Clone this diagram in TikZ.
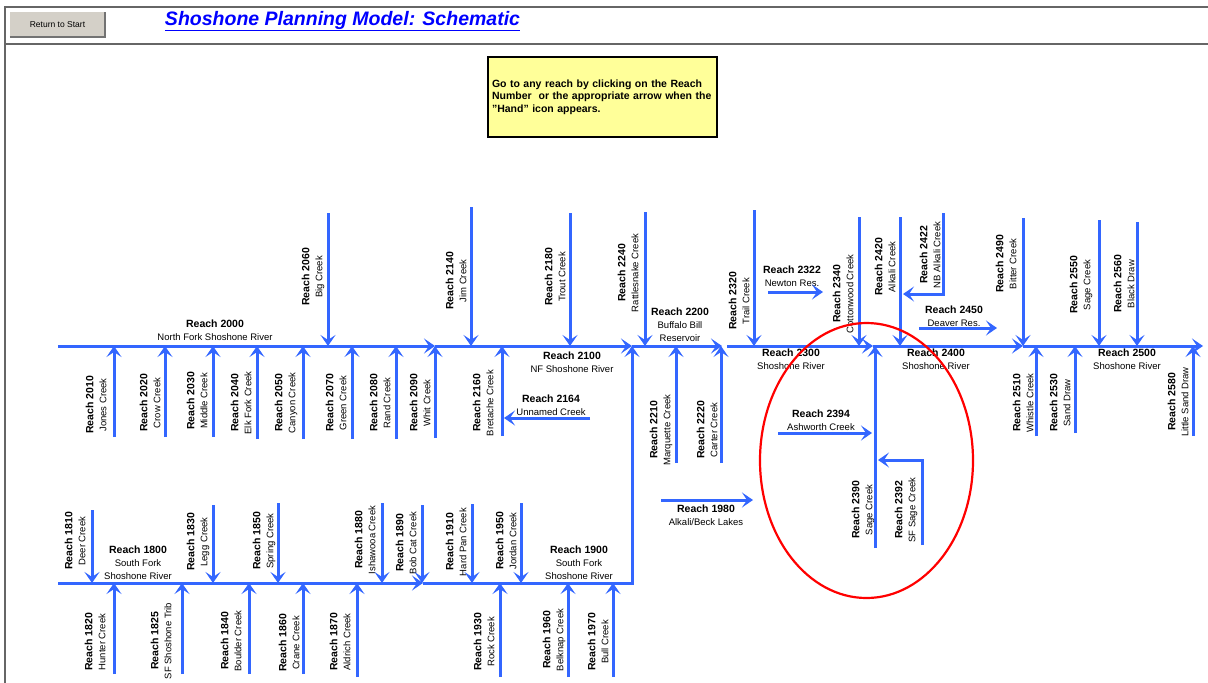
\documentclass[tikz,border=0pt]{standalone}
\usepackage{fontspec}
\setmainfont{Liberation Sans}
\usetikzlibrary{arrows.meta, positioning}
\definecolor{riverblue}{HTML}{3366FF}
\definecolor{titleblue}{HTML}{0000FF}
\definecolor{notefill}{HTML}{FFFF99}
\definecolor{btnfill}{HTML}{D4D0C8}
\newcommand*{\reach}[2]{{\fontsize{10.5}{13}\selectfont\bfseries Reach #1}\\#2}
\tikzset{
    point/.style  = {coordinate},
    river/.style  = {draw=riverblue, line width=3pt},
    flow/.style   = {river, -{Stealth[length=11pt, width=15pt, inset=5pt]}},
    tribv/.style  = {rotate=90, align=center, inner sep=0pt},
    tribh/.style  = {align=center, inner sep=0pt},
    frame/.style  = {draw=black!60, line width=1.5pt},
    button/.style = {fill=btnfill, minimum width=95pt, minimum height=25pt, inner sep=0pt, font=\fontsize{8.5}{10}\selectfont},
    note/.style   = {draw, line width=1.3pt, fill=notefill, minimum width=229pt, minimum height=80pt, text width=221pt, align=left, font=\fontsize{10.5}{12.5}\selectfont\bfseries},
    ring/.style   = {draw=red, line width=2.2pt}
}

\begin{document}
\begin{tikzpicture}[x=1pt, y=-1pt, every node/.style={font=\fontsize{9.5}{13}\selectfont}]
	\useasboundingbox (0,0) rectangle (1208,683);
	\draw [frame] (5,683) -- (5,7) -- (1208,7);
	\draw [frame] (5,44) -- (1208,44);

	\node (back) [button] at (57.5,24.5) {Return to Start};
	\draw [white, line width=1pt] (back.south west) -- (back.north west) -- (back.north east);
	\draw [black!55, line width=1.5pt] (back.south west) -- (back.south east) -- (back.north east);
	\node (title) [anchor=base, text=titleblue, font=\fontsize{19.5}{22}\selectfont\bfseries\itshape] at (342.5,25) {\underline{Shoshone Planning Model: Schematic}};
	\node (hint) [note] at (602.5,97) {Go to any reach by clicking on the Reach\\Number\ \ or the appropriate arrow when the\\{\char"0022}Hand{\char"0022} icon appears.};

	\coordinate (u0) at (58,346);
	\coordinate (u1) at (435,346);
	\coordinate (u2) at (632,346);
	\coordinate (u3) at (722,346);
	\coordinate (u4) at (727,346);
	\coordinate (u5) at (873,346);
	\coordinate (u6) at (1023,346);
	\coordinate (u7) at (1203,346);
	\coordinate (l0) at (58,583);
	\coordinate (l1) at (423,583);
	\coordinate (l2) at (632,583);

	\node (r2000) [tribh] at (215,330.5) {\reach{2000}{North Fork Shoshone River}};
	\node (r2100) [tribh] at (572,362) {\reach{2100}{NF Shoshone River}};
	\node (r2200) [tribh] at (680,325) {\reach{2200}{Buffalo Bill\\Reservoir}};
	\node (r2300) [tribh] at (791,359) {\reach{2300}{Shoshone River}};
	\node (r2400) [tribh] at (936,359) {\reach{2400}{Shoshone River}};
	\node (r2500) [tribh] at (1127,359) {\reach{2500}{Shoshone River}};
	\node (r1800) [tribh] at (138,563) {\reach{1800}{South Fork\\Shoshone River}};
	\node (r1900) [tribh] at (579,563) {\reach{1900}{South Fork\\Shoshone River}};

	\node (r2060) [tribv] at (313,277) {\reach{2060}{Big Creek}};
	\node (r2140) [tribv] at (456,281) {\reach{2140}{Jim Creek}};
	\node (r2180) [tribv] at (555,277) {\reach{2180}{Trout Creek}};
	\node (r2240) [tribv] at (628,273) {\reach{2240}{Rattlesnake Creek}};
	\node (r2320) [tribv] at (739,301) {\reach{2320}{Trail Creek}};
	\node (r2340) [tribv] at (843,294) {\reach{2340}{Cottonwood Creek}};
	\node (r2420) [tribv] at (885,267) {\reach{2420}{Alkali Creek}};
	\node (r2422) [tribv] at (930,255) {\reach{2422}{NB Alkali Creek}};
	\node (r2490) [tribv] at (1006,264) {\reach{2490}{Bitter Creek}};
	\node (r2550) [tribv] at (1081,285) {\reach{2550}{Sage Creek}};
	\node (r2560) [tribv] at (1124,284) {\reach{2560}{Black Draw}};

	\node (r2010) [tribv] at (96,405) {\reach{2010}{Jones Creek}};
	\node (r2020) [tribv] at (150,403) {\reach{2020}{Crow Creek}};
	\node (r2030) [tribv] at (197,401) {\reach{2030}{Middle Creek}};
	\node (r2040) [tribv] at (241,403) {\reach{2040}{Elk Fork Creek}};
	\node (r2050) [tribv] at (286,403) {\reach{2050}{Canyon Creek}};
	\node (r2070) [tribv] at (336,403) {\reach{2070}{Green Creek}};
	\node (r2080) [tribv] at (380,403) {\reach{2080}{Rand Creek}};
	\node (r2090) [tribv] at (420,403) {\reach{2090}{Whit Creek}};
	\node (r2160) [tribv] at (483,403) {\reach{2160}{Bretache Creek}};
	\node (r2210) [tribv] at (661,430) {\reach{2210}{Marquette Creek}};
	\node (r2220) [tribv] at (707,430) {\reach{2220}{Carter Creek}};
	\node (r2390) [tribv] at (863,510) {\reach{2390}{Sage Creek}};
	\node (r2392) [tribv] at (906,510) {\reach{2392}{SF Sage Creek}};
	\node (r2510) [tribv] at (1023,403) {\reach{2510}{Whistle Creek}};
	\node (r2530) [tribv] at (1060,403) {\reach{2530}{Sand Draw}};
	\node (r2580) [tribv] at (1178,402) {\reach{2580}{Little Sand Draw}};

	\node (r1810) [tribv] at (75,541) {\reach{1810}{Deer Creek}};
	\node (r1830) [tribv] at (198,542) {\reach{1830}{Legg Creek}};
	\node (r1850) [tribv] at (264,541) {\reach{1850}{Spring Creek}};
	\node (r1880) [tribv] at (365,540) {\reach{1880}{Ishawooa Creek}};
	\node (r1890) [tribv] at (406,543) {\reach{1890}{Bob Cat Creek}};
	\node (r1910) [tribv] at (456,542) {\reach{1910}{Hard Pan Creek}};
	\node (r1950) [tribv] at (506,541) {\reach{1950}{Jordan Creek}};
	\node (r1820) [tribv] at (95,642) {\reach{1820}{Hunter Creek}};
	\node (r1825) [tribv] at (161,641) {\reach{1825}{SF Shoshone Trib}};
	\node (r1840) [tribv] at (231,641) {\reach{1840}{Boulder Creek}};
	\node (r1860) [tribv] at (289,643) {\reach{1860}{Crane Creek}};
	\node (r1870) [tribv] at (340,642) {\reach{1870}{Aldrich Creek}};
	\node (r1930) [tribv] at (484,642) {\reach{1930}{Rock Creek}};
	\node (r1960) [tribv] at (554,640) {\reach{1960}{Belknap Creek}};
	\node (r1970) [tribv] at (598,642) {\reach{1970}{Bull Creek}};

	\node (r2164) [tribh] at (551,405) {\reach{2164}{Unnamed Creek}};
	\node (r2322) [tribh] at (792,276.5) {\reach{2322}{Newton Res.}};
	\node (r2450) [tribh] at (954,316) {\reach{2450}{Deaver Res.}};
	\node (r2394) [tribh] at (821,420) {\reach{2394}{Ashworth Creek}};
	\node (r1980) [tribh] at (706,515) {\reach{1980}{Alkali/Beck Lakes}};

	\coordinate (s2060) at (328,213);  \coordinate (j2060) at (s2060 |- u0);
	\coordinate (s2140) at (471,207);  \coordinate (j2140) at (s2140 |- u0);
	\coordinate (s2180) at (570,213);  \coordinate (j2180) at (s2180 |- u0);
	\coordinate (s2240) at (645,212);  \coordinate (j2240) at (s2240 |- u0);
	\coordinate (s2320) at (754,210);  \coordinate (j2320) at (s2320 |- u0);
	\coordinate (s2340) at (859,217);  \coordinate (j2340) at (s2340 |- u0);
	\coordinate (s2420) at (900,217);  \coordinate (j2420) at (s2420 |- u0);
	\coordinate (s2422) at (943,213);  \coordinate (j2422) at (903,294);
	\coordinate (s2490) at (1023,218); \coordinate (j2490) at (s2490 |- u0);
	\coordinate (s2550) at (1099,220); \coordinate (j2550) at (s2550 |- u0);
	\coordinate (s2560) at (1137,222); \coordinate (j2560) at (s2560 |- u0);
	\coordinate (s2010) at (114,437);  \coordinate (j2010) at (s2010 |- u0);
	\coordinate (s2020) at (165,437);  \coordinate (j2020) at (s2020 |- u0);
	\coordinate (s2030) at (213,437);  \coordinate (j2030) at (s2030 |- u0);
	\coordinate (s2040) at (257,439);  \coordinate (j2040) at (s2040 |- u0);
	\coordinate (s2050) at (303,439);  \coordinate (j2050) at (s2050 |- u0);
	\coordinate (s2070) at (352,439);  \coordinate (j2070) at (s2070 |- u0);
	\coordinate (s2080) at (396,439);  \coordinate (j2080) at (s2080 |- u0);
	\coordinate (s2090) at (435,438);  \coordinate (j2090) at (s2090 |- u0);
	\coordinate (s2160) at (502,436);  \coordinate (j2160) at (s2160 |- u0);
	\coordinate (s2210) at (676,463);  \coordinate (j2210) at (s2210 |- u0);
	\coordinate (s2220) at (721,463);  \coordinate (j2220) at (s2220 |- u0);
	\coordinate (s2390) at (875,548);  \coordinate (j2390) at (s2390 |- u0);
	\coordinate (s2392) at (922,545);  \coordinate (j2392) at (878,460);
	\coordinate (s2510) at (1036,436); \coordinate (j2510) at (s2510 |- u0);
	\coordinate (s2530) at (1075,433); \coordinate (j2530) at (s2530 |- u0);
	\coordinate (s2580) at (1193,436); \coordinate (j2580) at (s2580 |- u0);
	\coordinate (s1810) at (92,510);   \coordinate (j1810) at (s1810 |- l0);
	\coordinate (s1830) at (213,505);  \coordinate (j1830) at (s1830 |- l0);
	\coordinate (s1850) at (278,503);  \coordinate (j1850) at (s1850 |- l0);
	\coordinate (s1880) at (382,503);  \coordinate (j1880) at (s1880 |- l0);
	\coordinate (s1890) at (422,505);  \coordinate (j1890) at (s1890 |- l0);
	\coordinate (s1910) at (472,504);  \coordinate (j1910) at (s1910 |- l0);
	\coordinate (s1950) at (521,503);  \coordinate (j1950) at (s1950 |- l0);
	\coordinate (s1820) at (114,674);  \coordinate (j1820) at (s1820 |- l0);
	\coordinate (s1825) at (182,674);  \coordinate (j1825) at (s1825 |- l0);
	\coordinate (s1840) at (249,674);  \coordinate (j1840) at (s1840 |- l0);
	\coordinate (s1860) at (303,674);  \coordinate (j1860) at (s1860 |- l0);
	\coordinate (s1870) at (357,677);  \coordinate (j1870) at (s1870 |- l0);
	\coordinate (s1930) at (500,677);  \coordinate (j1930) at (s1930 |- l0);
	\coordinate (s1960) at (568,677);  \coordinate (j1960) at (s1960 |- l0);
	\coordinate (s1970) at (613,677);  \coordinate (j1970) at (s1970 |- l0);
	\coordinate (s2164) at (590,418);  \coordinate (j2164) at (504,418);
	\coordinate (s2322) at (768,292);  \coordinate (j2322) at (823,292);
	\coordinate (s2450) at (919,328);  \coordinate (j2450) at (997,328);
	\coordinate (s2394) at (778,433);  \coordinate (j2394) at (872,433);
	\coordinate (s1980) at (661,500);  \coordinate (j1980) at (753,500);

	\draw [flow] (u0) -- (u1);
	\draw [flow] (u1) -- (u2);
	\draw [flow] (u2) -- (u3);
	\draw [flow] (u4) -- (u5);
	\draw [flow] (u5) -- (u6);
	\draw [flow] (u6) -- (u7);
	\draw [flow] (l0) -- (l1);
	\draw [flow] (l1) -- (l2) -- (u2);
	\draw [flow] (s2060) -- (j2060);
	\draw [flow] (s2140) -- (j2140);
	\draw [flow] (s2180) -- (j2180);
	\draw [flow] (s2240) -- (j2240);
	\draw [flow] (s2320) -- (j2320);
	\draw [flow] (s2340) -- (j2340);
	\draw [flow] (s2420) -- (j2420);
	\draw [flow] (s2422) |- (j2422);
	\draw [flow] (s2490) -- (j2490);
	\draw [flow] (s2550) -- (j2550);
	\draw [flow] (s2560) -- (j2560);
	\draw [flow] (s2010) -- (j2010);
	\draw [flow] (s2020) -- (j2020);
	\draw [flow] (s2030) -- (j2030);
	\draw [flow] (s2040) -- (j2040);
	\draw [flow] (s2050) -- (j2050);
	\draw [flow] (s2070) -- (j2070);
	\draw [flow] (s2080) -- (j2080);
	\draw [flow] (s2090) -- (j2090);
	\draw [flow] (s2160) -- (j2160);
	\draw [flow] (s2210) -- (j2210);
	\draw [flow] (s2220) -- (j2220);
	\draw [flow] (s2390) -- (j2390);
	\draw [flow] (s2392) |- (j2392);
	\draw [flow] (s2510) -- (j2510);
	\draw [flow] (s2530) -- (j2530);
	\draw [flow] (s2580) -- (j2580);
	\draw [flow] (s1810) -- (j1810);
	\draw [flow] (s1830) -- (j1830);
	\draw [flow] (s1850) -- (j1850);
	\draw [flow] (s1880) -- (j1880);
	\draw [flow] (s1890) -- (j1890);
	\draw [flow] (s1910) -- (j1910);
	\draw [flow] (s1950) -- (j1950);
	\draw [flow] (s1820) -- (j1820);
	\draw [flow] (s1825) -- (j1825);
	\draw [flow] (s1840) -- (j1840);
	\draw [flow] (s1860) -- (j1860);
	\draw [flow] (s1870) -- (j1870);
	\draw [flow] (s1930) -- (j1930);
	\draw [flow] (s1960) -- (j1960);
	\draw [flow] (s1970) -- (j1970);
	\draw [flow] (s2164) -- (j2164);
	\draw [flow] (s2322) -- (j2322);
	\draw [flow] (s2450) -- (j2450);
	\draw [flow] (s2394) -- (j2394);
	\draw [flow] (s1980) -- (j1980);

	\draw [ring] (866.5,460.5) ellipse [x radius=106.5, y radius=137.5];
\end{tikzpicture}
\end{document}
